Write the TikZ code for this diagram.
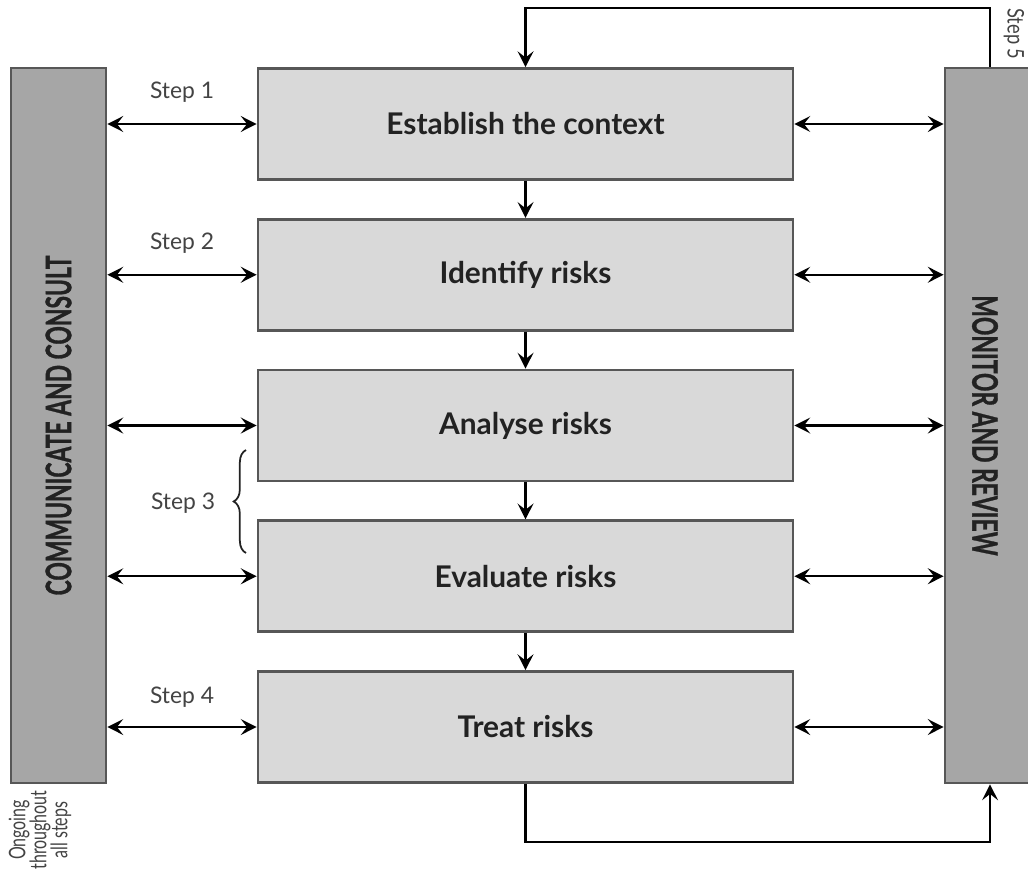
\documentclass[tikz,border=0pt]{standalone}
\usepackage{fontspec}
\setmainfont{Lato}
\newfontfamily\barfont{Lato}[FakeBold=1.2]
\usetikzlibrary{decorations.pathreplacing,arrows.meta}
\definecolor{barfill}{HTML}{A6A6A6}
\definecolor{boxfill}{HTML}{D9D9D9}
\definecolor{edge}{HTML}{575757}
\definecolor{ink}{HTML}{222222}

\begin{document}
\begin{tikzpicture}[
	stage/.style={draw=edge,line width=1.5pt,fill=boxfill,minimum width=10.7cm,minimum height=2.22cm,inner sep=0pt,text=ink,font=\fontsize{17}{20}\selectfont\bfseries},
	bar/.style={draw=edge,line width=1.5pt,fill=barfill,minimum height=14.3cm,inner sep=0pt},
	barlabel/.style={text=ink,font=\barfont\fontsize{20}{24}\selectfont\bfseries},
	steplabel/.style={text=ink!85,font=\fontsize{13}{15}\selectfont},
	link/.style={line width=1.2pt,{Stealth[length=9pt,width=9pt,inset=3.5pt]}-{Stealth[length=9pt,width=9pt,inset=3.5pt]}},
	flow/.style={line width=1.2pt,-{Stealth[length=9pt,width=9pt,inset=3.5pt]}}
	]
	\clip (0,0) rectangle (20.56,-17.44);
	\node[bar,minimum width=1.9cm] (cc) at (1.17,-8.51) {};
	\node[barlabel,rotate=90] (cclabel) at (cc.center) {\scalebox{0.65}[1]{COMMUNICATE AND CONSULT}};
	\node[bar,minimum width=1.8cm] (mr) at (19.8,-8.51) {};
	\node[barlabel,rotate=-90] (mrlabel) at (19.7,-8.51) {\scalebox{0.65}[1]{MONITOR AND REVIEW}};
	\node[stage] (s1) at (10.51,-2.48) {Establish the context};
	\node[stage] (s2) at (10.51,-5.495) {Identify risks};
	\node[stage] (s3) at (10.51,-8.51) {Analyse risks};
	\node[stage] (s4) at (10.51,-11.525) {Evaluate risks};
	\node[stage] (s5) at (10.51,-14.54) {Treat risks};
	\foreach \i in {1,...,5}
	{
		\draw[link] (cc.east |- s\i) -- (s\i.west);
		\draw[link] (s\i.east) -- (mr.west |- s\i);
	}
	\foreach \i/\j in {1/2,2/3,3/4,4/5}
		\draw[flow] (s\i) -- (s\j);
	\coordinate (topturn) at (19.8,-0.16);
	\coordinate (botturn) at (19.8,-16.84);
	\draw[flow] (mr.north) -- (topturn) -| (s1.north);
	\draw[flow] (s5.south) |- (botturn) -- (mr.south);
	\node[steplabel] (step1) at (3.64,-1.84) {Step 1};
	\node[steplabel] (step2) at (3.64,-4.86) {Step 2};
	\node[steplabel] (step3) at (3.66,-10.06) {Step 3};
	\node[steplabel] (step4) at (3.64,-13.94) {Step 4};
	\node[steplabel,rotate=-90] (step5) at (20.28,-0.68) {\scalebox{0.8}[1]{Step 5}};
	\draw[decorate,decoration={brace,amplitude=7pt},line width=1pt,ink] (4.92,-11.06) -- (4.92,-9.0);
	\node[steplabel,rotate=90,align=center,font=\fontsize{13}{12}\selectfont] (ongoing) at (0.8,-16.6) {\scalebox{0.7}[1]{Ongoing}\\\scalebox{0.7}[1]{throughout}\\\scalebox{0.7}[1]{all steps}};
\end{tikzpicture}
\end{document}
